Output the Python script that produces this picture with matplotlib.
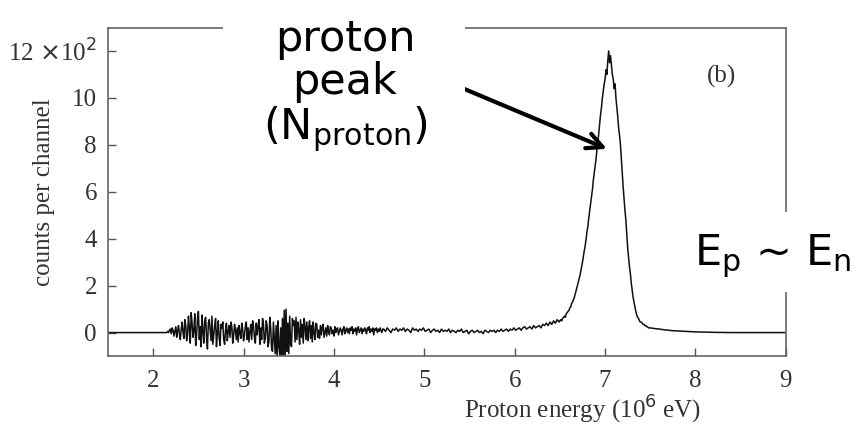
import numpy as np
import matplotlib.pyplot as plt
from matplotlib.patches import Rectangle

# --- spectrum data (counts per channel, units of 10^2) ---
flat_e = [1.5, 2.14]
flat_c = [0.0, 0.0]

# noisy low-energy part, channel step 0.01 starting at 2.15
noisy_c = [
    0.0, 0.05, 0.0, 0.1, 0.15, -0.05, 0.2, 0.1, -0.15, 0.05,
    0.25, -0.2, 0.1, 0.3, -0.05, -0.3, 0.15, 0.45, 0.0, -0.25,
    0.55, 0.3, -0.35, -0.1, 0.7, 0.2, -0.45, 0.85, 0.4, -0.2,
    0.1, 0.8, -0.55, -0.1, 0.6, 0.9, -0.3, 0.25, -0.6, 0.75,
    0.05, -0.45, 0.5, 0.65, -0.2, -0.7, 0.4, 0.55, 0.1, -0.35,
    0.7, -0.5, -0.1, 0.3, 0.6, -0.6, 0.0, 0.5, -0.25, -0.55,
    0.35, 0.2, 0.45, -0.3, -0.5, 0.1, 0.4, -0.35, 0.05, 0.3,
    -0.2, 0.45, 0.25, -0.45, -0.1, 0.35, 0.1, -0.3, 0.2, -0.4,
    0.3, 0.0, -0.25, 0.4, 0.15, -0.35, -0.1, 0.3, 0.45, -0.3,
    0.2, -0.4, 0.05, 0.35, -0.3, 0.5, 0.25, -0.2, -0.45, 0.4,
    -0.1, 0.3, 0.55, -0.5, 0.2, -0.3, 0.6, 0.35, -0.45, -0.25,
    0.5, 0.3, -0.6, -0.4, 0.65, 0.2, -0.7, -0.8, 0.45, -0.2,
    -0.9, 0.3, -1.1, 0.5, -0.6, -0.95, 0.2, -1.2, 0.6, -1.0,
    0.95, -1.1, 1.0, -0.8, 0.4, -0.9, 0.7, -0.5, -0.6, 0.6,
    0.3, 0.5, -0.4, 0.65, -0.3, 0.45, 0.1, -0.5, 0.55, -0.2,
    0.35, -0.45, 0.6, 0.25, -0.3, 0.45, -0.35, 0.2, 0.5, -0.25,
    0.3, -0.4, 0.45, 0.0, -0.3, 0.4, 0.35, -0.2, 0.1, -0.25,
    0.3, -0.1, 0.25, 0.35, -0.2, 0.0, 0.2, -0.15, 0.3, 0.05,
    -0.1, 0.25, 0.2, -0.05, 0.1, -0.15, 0.25, 0.0, 0.15, 0.2,
    -0.1, 0.05, 0.2, 0.1, -0.1, 0.15, 0.25, -0.05, 0.1, 0.2,
    0.0, 0.15, -0.05, 0.2, 0.1, 0.25, -0.05, 0.15, 0.05, 0.2,
    -0.1, 0.15, 0.25, 0.0, 0.1, 0.2, -0.05, 0.15, 0.05, 0.2,
    0.1, -0.05, 0.2, 0.1, 0.25, 0.0, 0.15, 0.05, 0.2, -0.1,
    0.15, 0.1, 0.2, 0.0, 0.15, 0.05, 0.2, 0.1, 0.0, 0.15,
]

# quieter plateau, channel step 0.02 starting at 4.55
plateau_c = [
    0.15, 0.05, 0.2, 0.1, 0.0, 0.15, 0.1, 0.2, 0.05, 0.15,
    0.1, 0.2, 0.05, 0.15, 0.1, 0.0, 0.2, 0.1, 0.15, 0.05,
    0.15, 0.1, 0.2, 0.05, 0.1, 0.15, 0.0, 0.1, 0.15, 0.05,
    0.1, 0.0, 0.15, 0.05, 0.1, 0.05, 0.15, 0.0, 0.1, 0.05,
    0.0, 0.1, 0.05, 0.15, 0.0, 0.05, 0.1, -0.05, 0.05, 0.1,
    0.0, 0.05, 0.1, 0.0, 0.05, -0.05, 0.1, 0.05, 0.0, 0.1,
    0.05, 0.1, 0.0, 0.1, 0.05, 0.15, 0.05, 0.1, 0.15, 0.05,
    0.15, 0.1, 0.2, 0.1, 0.15, 0.2, 0.1, 0.2, 0.25, 0.15,
    0.2, 0.25, 0.15, 0.3, 0.2, 0.25, 0.3, 0.2, 0.35, 0.3,
    0.4, 0.3, 0.45, 0.35, 0.5, 0.4, 0.55, 0.45,
]

# proton peak, channel step 0.01 starting at 6.50
peak_c = [
    0.5, 0.55, 0.5, 0.6, 0.65, 0.7, 0.65, 0.8, 0.85, 0.9,
    0.95, 1.05, 1.1, 1.25, 1.3, 1.4, 1.5, 1.65, 1.8, 1.95,
    2.1, 2.25, 2.4, 2.6, 2.8, 3.0, 3.25, 3.5, 3.7, 4.0,
    4.3, 4.55, 4.9, 5.2, 5.5, 5.8, 6.1, 6.5, 6.8, 7.1,
    7.4, 7.8, 8.1, 8.5, 8.9, 9.3, 9.6, 10.0, 10.3, 10.6,
    10.8, 11.2, 11.0, 11.6, 12.0, 11.5, 11.8, 11.4, 11.0, 10.8,
    10.4, 10.6, 10.0, 9.6, 9.2, 8.7, 8.4, 8.0, 7.4, 6.8,
    6.2, 5.7, 5.2, 4.8, 4.2, 3.6, 3.2, 2.8, 2.5, 2.1,
    1.8, 1.5, 1.3, 1.1, 0.9, 0.75, 0.65, 0.6, 0.5, 0.45,
    0.45, 0.4, 0.35, 0.35, 0.3, 0.3, 0.25, 0.25, 0.2, 0.2,
]

tail_e = [7.5, 7.55, 7.6, 7.65, 7.7, 7.75, 7.8, 7.85, 7.9, 7.95, 8.0, 8.1, 8.2, 8.4, 9.0]
tail_c = [0.2, 0.17, 0.15, 0.12, 0.1, 0.08, 0.07, 0.06, 0.05, 0.04, 0.03, 0.02, 0.01, 0.0, 0.0]

xticks = [2, 3, 4, 5, 6, 7, 8, 9]
yticks = [0, 2, 4, 6, 8, 10, 12]
ytick_labels = ['0', '2', '4', '6', '8', '10', '12 $\\times$10$^2$']

noisy_e = 2.15 + 0.01 * np.arange(len(noisy_c))
plateau_e = 4.55 + 0.02 * np.arange(len(plateau_c))
peak_e = 6.50 + 0.01 * np.arange(len(peak_c))

energy = np.concatenate([flat_e, noisy_e, plateau_e, peak_e, tail_e])
counts = np.concatenate([flat_c, noisy_c, plateau_c, peak_c, tail_c])

serif = ['Liberation Serif', 'DejaVu Serif']
txtcol = '#333333'

fig = plt.figure(figsize=(8.58, 4.30), dpi=100)
ax = fig.add_axes([0.1259, 0.172, 0.790, 0.764])

ax.plot(energy, counts, color='#111111', lw=1.1)

ax.set_xlim(1.5, 9)
ax.set_ylim(-1, 13)
ax.set_xticks(xticks)
ax.set_yticks(yticks)
ax.set_yticklabels(ytick_labels)
for lab in ax.get_xticklabels() + ax.get_yticklabels():
    lab.set_family(serif)
    lab.set_fontsize(18)
    lab.set_color(txtcol)
ax.tick_params(direction='in', length=6, width=1, color='#555555')
ax.tick_params(axis='x', pad=10)
ax.tick_params(axis='y', pad=8)
for sp in ax.spines.values():
    sp.set_color('#666666')
    sp.set_linewidth(1.2)

ax.set_ylabel('counts per channel', family=serif, fontsize=18, color=txtcol)
ax.yaxis.set_label_coords(-0.078, 0.5)
ax.set_xlabel('Proton energy (10$^6$ eV)', family=serif, fontsize=18, color=txtcol)
ax.xaxis.set_label_coords(0.70, -0.115)

ax.text(0.905, 0.85, '(b)', transform=ax.transAxes, family=serif, fontsize=18,
        color=txtcol, ha='center', va='center')

# arrow to the peak
ax.annotate('', xy=(7.02, 7.83), xytext=(5.40, 10.45),
            arrowprops=dict(arrowstyle='->', lw=3, color='black', mutation_scale=28,
                            shrinkA=0, shrinkB=0),
            annotation_clip=False)

# white boxes behind the annotation texts
fig.patches.append(Rectangle((223 / 858, 1 - 190 / 430), 242 / 858, 190 / 430,
                             transform=fig.transFigure, facecolor='white',
                             edgecolor='none', zorder=2))
fig.patches.append(Rectangle((690 / 858, 1 - 292 / 430), 168 / 858, 80 / 430,
                             transform=fig.transFigure, facecolor='white',
                             edgecolor='none', zorder=2))

fig.text(0.402, 0.80, 'proton\npeak\n(N$_{\\mathrm{proton}}$)', ha='center', va='center',
         fontsize=31, family='DejaVu Sans', linespacing=1.05, zorder=3)
fig.text(0.90, 0.405, 'E$_{\\mathrm{p}}$ ~ E$_{\\mathrm{n}}$', ha='center', va='center',
         fontsize=31, family='DejaVu Sans', zorder=3)

fig.savefig('out.png', dpi=100)
